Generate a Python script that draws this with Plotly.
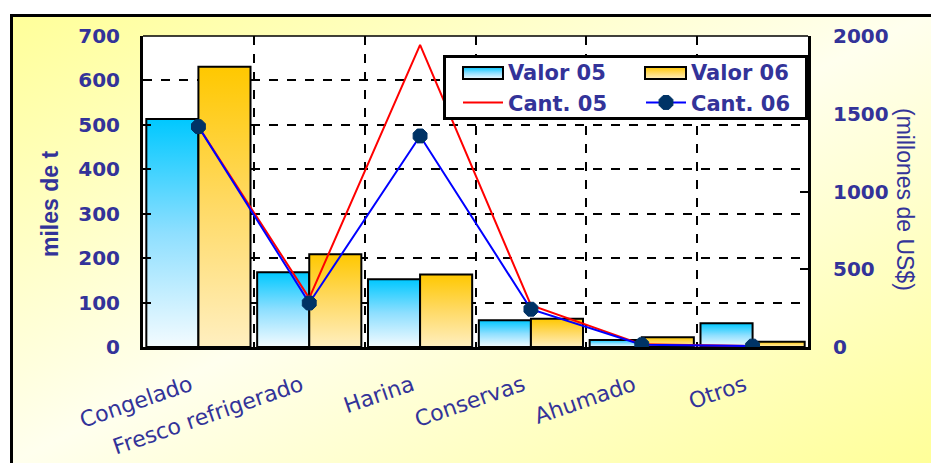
import base64
import plotly.graph_objects as go

# ---------------- data ----------------
categories = ["Congelado", "Fresco refrigerado", "Harina", "Conservas", "Ahumado", "Otros"]
valor_05 = [1466, 480, 435, 172, 45, 152]      # millones de US$
valor_06 = [1802, 596, 467, 182, 62, 34]       # millones de US$
cant_05 = [496, 110, 680, 94, 6, 2]            # miles de t
cant_06 = [496, 99, 475, 85, 5, 2]             # miles de t
left_ticks = [0, 100, 200, 300, 400, 500, 600, 700]
right_ticks = [0, 500, 1000, 1500, 2000]

# ---------------- layout geometry ----------------
W, H = 931, 463
ML, MR, MT, MB = 143, 123, 36, 116
PW, PH = W - ML - MR, H - MT - MB


def px(x):
    return (x - ML) / PW


def py(y):
    return (H - MB - y) / PH


def svg_uri(svg):
    return "data:image/svg+xml;base64," + base64.b64encode(svg.encode()).decode()


TXT = "#333399"
BW = 0.47  # bar width in category units
CYAN = [[0, "#F3FBFF"], [0.5, "#8EDFFF"], [1, "#00C8FF"]]
GOLD = [[0, "#FFEFC0"], [0.5, "#FFDA66"], [1, "#FFC800"]]

fig = go.Figure()

series = [("Valor 05", valor_05, -BW, 0.0, CYAN, "legend"),
          ("Valor 06", valor_06, 0.0, BW, GOLD, "legend2")]
for name, vals, o0, o1, cs, lg in series:
    # legend entry (symbol drawn in the legend box image)
    fig.add_trace(go.Scatter(x=[None], y=[None], mode="lines",
                             line=dict(color="rgba(0,0,0,0)", width=1),
                             name=name, legendgroup=name, legend=lg,
                             xaxis="x", yaxis="y"))
    for i, v in enumerate(vals):
        xa, xb = i + o0, i + o1
        fig.add_trace(go.Scatter(
            x=[xa, xa, xb, xb, xa], y=[0, v, v, 0, 0],
            mode="lines", fill="toself",
            fillgradient=dict(type="vertical", colorscale=cs),
            line=dict(color="black", width=2),
            name=name, legendgroup=name, showlegend=False,
            xaxis="x", yaxis="y", hoverinfo="skip"))

fig.add_trace(go.Scatter(
    x=list(range(len(categories))), y=cant_05, mode="lines",
    line=dict(color="#FF0000", width=2), name="Cant. 05",
    xaxis="x", yaxis="y2", legend="legend"))
fig.add_trace(go.Scatter(
    x=list(range(len(categories))), y=cant_06, mode="lines+markers",
    line=dict(color="#0000FF", width=2),
    marker=dict(symbol="octagon", size=15, color="#003366",
                line=dict(color="#003366", width=1)),
    name="Cant. 06", xaxis="x", yaxis="y2", legend="legend2"))

# background panel (diagonal gradient + frame)
bg_svg = ('<svg xmlns="http://www.w3.org/2000/svg" width="921" height="449" '
          'viewBox="0 0 921 449" preserveAspectRatio="none"><defs>'
          '<linearGradient id="g" x1="0" y1="0" x2="1" y2="1">'
          '<stop offset="0" stop-color="#FFFF99"/>'
          '<stop offset="0.5" stop-color="#FFFFEE"/>'
          '<stop offset="1" stop-color="#FFFF99"/></linearGradient></defs>'
          '<rect width="921" height="449" fill="url(#g)"/>'
          '<path d="M1.5,449V1.5H921" fill="none" stroke="#000" stroke-width="3"/></svg>')


def stops(cs):
    return "".join('<stop offset="%g" stop-color="%s"/>' % (1 - o, c) for o, c in cs)


# legend box with gradient swatches
LBX, LBY, LBW, LBH = 443, 55, 365, 65
leg_svg = ('<svg xmlns="http://www.w3.org/2000/svg" width="%d" height="%d" '
           'viewBox="0 0 %d %d" preserveAspectRatio="none"><defs>'
           '<linearGradient id="c" x1="0" y1="0" x2="0" y2="1">%s</linearGradient>'
           '<linearGradient id="o" x1="0" y1="0" x2="0" y2="1">%s</linearGradient></defs>'
           '<rect x="1.5" y="1.5" width="%g" height="%g" fill="#fff" stroke="#000" stroke-width="3"/>'
           '<rect x="20" y="12" width="40" height="12" fill="url(#c)" stroke="#000" stroke-width="2"/>'
           '<rect x="202" y="12" width="41" height="12" fill="url(#o)" stroke="#000" stroke-width="2"/>'
           '</svg>') % (LBW, LBH, LBW, LBH, stops(CYAN[::-1]), stops(GOLD[::-1]),
                        LBW - 3, LBH - 3)

tickfont = dict(family="DejaVu Sans", size=20, color=TXT, weight="bold")
legfont = dict(family="DejaVu Sans", size=21, color=TXT, weight="bold")

fig.update_layout(
    width=W, height=H,
    margin=dict(l=ML, r=MR, t=MT, b=MB),
    paper_bgcolor="white", plot_bgcolor="white",
    images=[
        dict(source=svg_uri(bg_svg), xref="paper", yref="paper",
             x=px(10), y=py(14), sizex=921 / PW, sizey=449 / PH,
             xanchor="left", yanchor="top", sizing="stretch", layer="below"),
        dict(source=svg_uri(leg_svg), xref="paper", yref="paper",
             x=px(LBX), y=py(LBY), sizex=LBW / PW, sizey=LBH / PH,
             xanchor="left", yanchor="top", sizing="stretch", layer="above"),
    ],
    xaxis=dict(range=[-0.5, len(categories) - 0.5], tickmode="array",
               tickvals=list(range(len(categories))), ticktext=categories,
               tickangle=-19, ticks="", showgrid=False, zeroline=False,
               showline=True, linecolor="black", linewidth=3, automargin=False,
               tickfont=dict(family="DejaVu Sans", size=22, color=TXT),
               ticklabelstandoff=14, ticklabelshift=-8,
               minor=dict(tickvals=[i + 0.5 for i in range(len(categories) - 1)],
                          showgrid=True, gridcolor="black", gridwidth=1.5,
                          griddash="dash", ticks="")),
    yaxis=dict(range=[0, 2000], side="right", tickmode="array", tickvals=right_ticks,
               ticks="inside", ticklen=8, tickwidth=2, tickcolor="black",
               showgrid=False, zeroline=False, showline=True, linecolor="black",
               linewidth=3, tickfont=tickfont, ticklabelstandoff=18, automargin=False),
    yaxis2=dict(range=[0, 700], side="left", overlaying="y", tickmode="array",
                tickvals=left_ticks, ticks="inside", ticklen=8, tickwidth=2,
                tickcolor="black", showgrid=True, gridcolor="black", gridwidth=1.5,
                griddash="dash", zeroline=False, showline=True, linecolor="black",
                linewidth=3, tickfont=tickfont, ticklabelstandoff=16, automargin=False),
    legend=dict(x=px(458), y=py(52), xanchor="left", yanchor="top",
                bgcolor="rgba(0,0,0,0)", borderwidth=0, font=legfont,
                itemwidth=40, tracegroupgap=0),
    legend2=dict(x=px(641), y=py(52), xanchor="left", yanchor="top",
                 bgcolor="rgba(0,0,0,0)", borderwidth=0, font=legfont,
                 itemwidth=40, tracegroupgap=0),
    shapes=[
        # white plotting area over the gradient panel
        dict(type="rect", xref="paper", yref="paper", x0=0, x1=1, y0=0, y1=1,
             fillcolor="white", line=dict(width=0), layer="below"),
        dict(type="line", xref="paper", yref="paper", x0=0, x1=1, y0=1, y1=1,
             line=dict(color="black", width=1.5), layer="above"),
    ],
    annotations=[
        dict(text="miles de t", xref="paper", yref="paper", x=px(50), y=py(204),
             showarrow=False, textangle=-90, xanchor="center", yanchor="middle",
             font=dict(family="Liberation Sans, Arial, sans-serif",
                       size=23, color=TXT, weight="bold")),
        dict(text="(millones de US$)", xref="paper", yref="paper", x=px(905), y=py(200),
             showarrow=False, textangle=90, xanchor="center", yanchor="middle",
             font=dict(family="Liberation Sans, Arial, sans-serif",
                       size=23, color=TXT)),
    ],
    showlegend=True,
)

fig.write_html("out.html")
